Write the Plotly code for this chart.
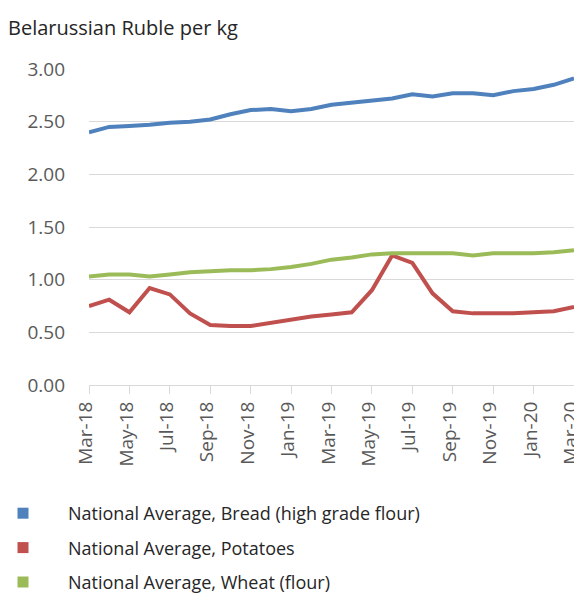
import plotly.graph_objects as go

MONTHS = [
    "Mar-18", "Apr-18", "May-18", "Jun-18", "Jul-18", "Aug-18", "Sep-18", "Oct-18",
    "Nov-18", "Dec-18", "Jan-19", "Feb-19", "Mar-19", "Apr-19", "May-19", "Jun-19",
    "Jul-19", "Aug-19", "Sep-19", "Oct-19", "Nov-19", "Dec-19", "Jan-20", "Feb-20",
    "Mar-20",
]

BREAD = [2.40, 2.45, 2.46, 2.47, 2.49, 2.50, 2.52, 2.57, 2.61, 2.62, 2.60, 2.62, 2.66,
         2.68, 2.70, 2.72, 2.76, 2.74, 2.77, 2.77, 2.75, 2.79, 2.81, 2.85, 2.91]
POTATOES = [0.75, 0.81, 0.69, 0.92, 0.86, 0.68, 0.57, 0.56, 0.56, 0.59, 0.62, 0.65, 0.67,
            0.69, 0.90, 1.23, 1.16, 0.87, 0.70, 0.68, 0.68, 0.68, 0.69, 0.70, 0.74]
WHEAT = [1.03, 1.05, 1.05, 1.03, 1.05, 1.07, 1.08, 1.09, 1.09, 1.10, 1.12, 1.15, 1.19,
         1.21, 1.24, 1.25, 1.25, 1.25, 1.25, 1.23, 1.25, 1.25, 1.25, 1.26, 1.28]

SERIES = [
    ("National Average, Bread (high grade flour)", BREAD, "#4f81bd"),
    ("National Average, Potatoes", POTATOES, "#c0504d"),
    ("National Average, Wheat (flour)", WHEAT, "#9bbb59"),
]

FONT = "'Open Sans', 'Noto Sans', sans-serif"
# the page body adds an 8px margin, so the figure is 8px smaller than the window
W, H = 574, 586
L, R, T, B = 81, 8, 61, 209
PW, PH = W - L - R, H - T - B

fig = go.Figure()
for name, values, color in SERIES:
    fig.add_trace(go.Scatter(
        x=MONTHS, y=values, mode="lines", name=name,
        line=dict(color=color, width=4), showlegend=False,
    ))
# square legend swatches, Excel style
for name, values, color in SERIES:
    fig.add_trace(go.Scatter(
        x=[None], y=[None], mode="markers", name=name, legendgroup=name,
        marker=dict(symbol="square", size=11, color=color),
    ))

fig.add_annotation(
    text="Belarussian Ruble per kg", showarrow=False,
    xref="paper", yref="paper", xanchor="left", yanchor="middle",
    x=(-2 - L) / PW, y=1 + (T - 20) / PH,
    font=dict(size=20, color="#262626"),
)

fig.update_layout(
    width=W, height=H,
    plot_bgcolor="white", paper_bgcolor="white",
    font=dict(family=FONT, size=14, color="#404040"),
    margin=dict(l=L, r=R, t=T, b=B, autoexpand=False),
    legend=dict(x=(-30 - L) / PW, xanchor="left", y=-(487 - (H - B)) / PH, yanchor="top",
                tracegroupgap=8, itemwidth=80,
                font=dict(size=18, color="#262626")),
)
fig.update_xaxes(
    tickmode="array", tickvals=MONTHS[::2], tickangle=-90,
    range=[0, len(MONTHS) - 1], automargin=False,
    showline=True, linecolor="#d9d9d9", linewidth=1,
    ticks="outside", ticklen=8, tickcolor="#d9d9d9",
    ticklabelshift=-3,
    tickfont=dict(size=19, color="#595959"), showgrid=False,
)
fig.update_yaxes(
    range=[0, 3.0], dtick=0.5, tickformat=".2f", automargin=False,
    showgrid=True, gridcolor="#d9d9d9", gridwidth=1, zeroline=False,
    ticklabelstandoff=23, tickfont=dict(size=19, color="#595959"),
)

fig.write_html("out.html")
